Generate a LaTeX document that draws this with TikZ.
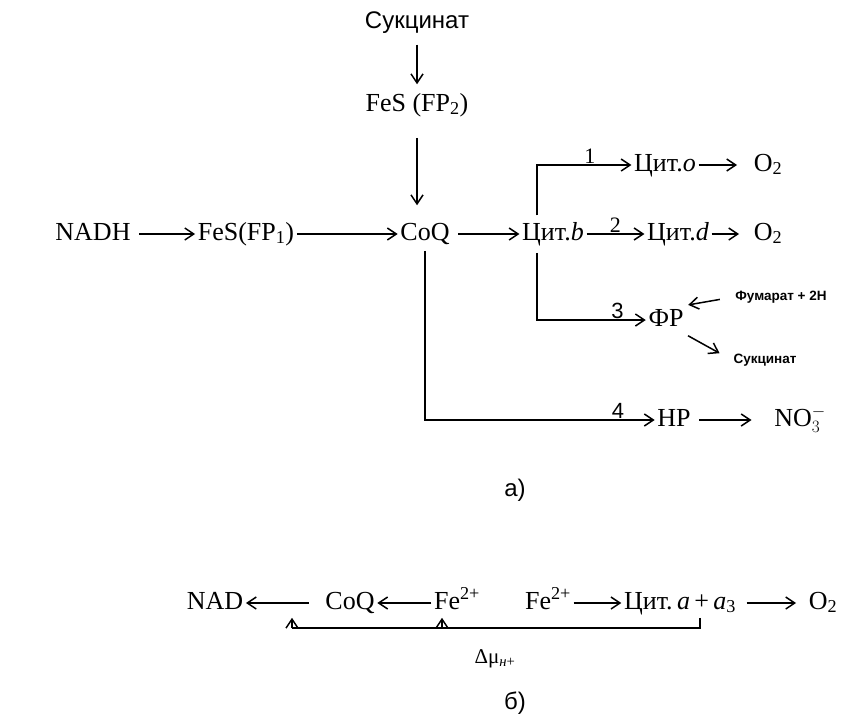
\documentclass[tikz,border=0pt]{standalone}
\usepackage{fontspec}
\setmainfont{Liberation Serif}
\setsansfont{Liberation Sans}
\usetikzlibrary{arrows.meta}

\begin{document}
\begin{tikzpicture}[x=1pt,y=-1pt,>={Straight Barb[length=9pt,width=12pt]},line width=1.5pt,
        chem/.style={inner sep=2pt,text height=18pt,text depth=6pt,font=\fontsize{26}{28}\selectfont},
        caption/.style={inner sep=2pt,font=\sffamily\fontsize{24}{28}\selectfont},
        small/.style={inner sep=1pt,font=\sffamily\bfseries\fontsize{13.5}{16}\selectfont},
        num/.style={inner sep=1pt,font=\fontsize{22}{24}\selectfont}]
        \useasboundingbox (0,0) rectangle (843,718);
        % a)
        \node[caption] (succ) at (417,23) {Сукцинат};
        \node[chem] (fes2) at (417,105) {FeS (FP\textsubscript{2})};
        \node[chem] (nadh) at (93,234) {NADH};
        \node[chem] (fes1) at (246,234) {FeS(FP\textsubscript{1})};
        \node[chem] (coq) at (425,234) {CoQ};
        \node[chem] (citb) at (553,234) {Цит.\textit{b}};
        \node[chem] (citd) at (678,234) {Цит.\textit{d}};
        \node[chem] (oxb) at (768,234) {O\textsubscript{2}};
        \node[chem] (cito) at (665,165) {Цит.\textit{o}};
        \node[chem] (oxa) at (768,165) {O\textsubscript{2}};
        \node[chem] (fr) at (666,320) {ФР};
        \node[small] (fum) at (781,297) {Фумарат + 2Н};
        \node[small] (succb) at (765,360) {Сукцинат};
        \node[chem] (hp) at (674,420) {HP};
        \node[chem] (no3) at (800,420) {NO$_{3}^{-}$};
        \node[caption] (capa) at (515,490) {а)};
        \draw[->,shorten <=8pt,shorten >=6pt] (succ) -- (fes2);
        \draw[->,shorten <=18pt,shorten >=14pt] (fes2.south) -- (fes2.south |- coq.north);
        \draw[->,shorten <=6pt] (nadh) -- (fes1);
        \draw[->] (fes1) -- (coq);
        \draw[->,shorten <=6pt] (coq) -- (citb);
        \draw[->] (citb) -- node[num,above]{2} (citd);
        \draw[->,shorten >=12pt] (citd) -- (oxb);
        \draw[->,shorten <=4pt] ([xshift=-16pt]citb.north) |- node[num,above,pos=0.78]{1} (cito.west);
        \draw[->,shorten >=14pt] (cito) -- (oxa);
        \draw[->,shorten <=4pt] ([xshift=-16pt]citb.south) |- node[num,font=\sffamily\fontsize{22}{24}\selectfont,above,pos=0.87]{3} (fr.west);
        \draw[->,shorten <=2pt] (coq.south) |- node[num,font=\sffamily\fontsize{22}{24}\selectfont,above,pos=0.92]{4} (hp.west);
        \draw[->,shorten <=14pt,shorten >=2pt] (fum.west) -- (fr.north east);
        \draw[->,shorten <=2pt,shorten >=14pt] (fr.south east) -- (succb.west);
        \draw[->,shorten <=6pt,shorten >=20pt] (hp) -- (no3);
        % b)
        \node[chem] (nad) at (215,603) {NAD};
        \node[chem] (coqb) at (350,603) {CoQ};
        \node[chem] (fea) at (457,603) {Fe\textsuperscript{2+}};
        \node[chem] (feb) at (548,603) {Fe\textsuperscript{2+}};
        \node[chem] (cita) at (680,603) {Цит.\,\textit{a}\,+\,\textit{a}\textsubscript{3}};
        \node[chem] (oxc) at (823,603) {O\textsubscript{2}};
        \node[chem,font=\fontsize{21}{24}\selectfont] (mu) at (495,657) {Δμ\textsubscript{\textit{н}+}};
        \node[caption] (capb) at (515,703) {б)};
        \coordinate (mur) at (700,628);
        \coordinate (mul) at (292,628);
        \coordinate (mum) at (442,628);
        \draw[->,shorten <=14pt] (coqb) -- (nad);
        \draw[->] (fea) -- (coqb);
        \draw[->] (feb) -- (cita);
        \draw[->,shorten <=8pt,shorten >=10pt] (cita) -- (oxc);
        \draw (mur |- cita.south) -- (mur) -- (mul);
        \draw[->] (mul) -- (mul |- nad.south);
        \draw[->] (mum) -- (mum |- fea.south);
    \end{tikzpicture}
\end{document}
